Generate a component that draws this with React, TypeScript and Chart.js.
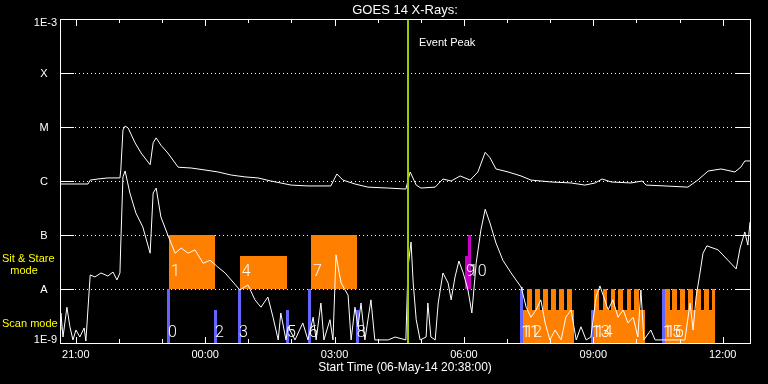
import React, { useEffect, useRef } from 'react';
import { Chart, registerables } from 'chart.js';

Chart.register(...registerables);

// ---------- text ----------
const TITLE = 'GOES 14 X-Rays:';
const START_LABEL = '06-May-14 20:38:00';
const START_HOUR = 20 + 38 / 60;
const SPAN_HOURS = 16;

// ---------- axes ----------
const yLevelValues = [1e-3, 1e-4, 1e-5, 1e-6, 1e-7, 1e-8, 1e-9];
const yLevelLabels = ['1E-3', 'X', 'M', 'C', 'B', 'A', '1E-9'];
const xTickLabels = ['21:00', '00:00', '03:00', '06:00', '09:00', '12:00'];

// ---------- GOES long channel (1-8 A), hours since start ----------
const longTimes = [
  0, 0.65, 0.7, 0.88, 1.11, 1.39, 1.41, 1.46, 1.51, 1.58, 1.74, 1.88, 2.09, 2.16, 2.23, 2.34, 2.5,
  2.74, 3.04, 3.36, 3.66, 3.97, 4.29, 4.59, 4.89, 5.36, 5.75, 6.28, 6.42, 6.56, 6.84, 7.14, 7.61,
  8.02, 8.12, 8.26, 8.37, 8.7, 8.88, 9.07, 9.28, 9.51, 9.69, 9.86, 9.97, 10.11, 10.39, 10.69, 10.92,
  11.39, 11.85, 12.17, 12.41, 12.57, 12.78, 13.24, 13.5, 13.59, 14.03, 14.56, 14.79, 15.03, 15.33,
  15.65, 15.79, 15.88, 16,
];
const longFlux = [
  8.8e-7, 8.8e-7, 1.04e-6, 1.09e-6, 1.14e-6, 1.14e-6, 1.6e-6, 8.8e-6, 1.04e-5, 9.6e-6, 5.1e-6, 3.3e-6,
  2.0e-6, 5.1e-6, 6.3e-6, 4.6e-6, 3.3e-6, 1.8e-6, 1.74e-6, 1.6e-6, 1.47e-6, 1.29e-6, 1.19e-6, 1.14e-6,
  1.0e-6, 8.4e-7, 8.1e-7, 8.1e-7, 1.35e-6, 1.04e-6, 8.8e-7, 7.7e-7, 7.4e-7, 7.1e-7, 1.47e-6, 8.4e-7,
  7.4e-7, 7.7e-7, 1.09e-6, 1.0e-6, 1.24e-6, 1.04e-6, 1.47e-6, 3.4e-6, 2.7e-6, 1.67e-6, 1.47e-6,
  1.24e-6, 1.04e-6, 9.6e-7, 9.2e-7, 8.4e-7, 9.2e-7, 1.09e-6, 9.6e-7, 9.2e-7, 1.0e-6, 8.4e-7, 8.1e-7,
  7.7e-7, 1.04e-6, 1.53e-6, 1.67e-6, 1.47e-6, 1.82e-6, 2.35e-6, 2.35e-6,
];

// ---------- GOES short channel (0.5-4 A) ----------
const shortTimes = [
  0, 0.02, 0.07, 0.16, 0.23, 0.3, 0.37, 0.46, 0.56, 0.6, 0.7, 0.81, 0.95, 1.11, 1.23, 1.32, 1.39,
  1.41, 1.46, 1.51, 1.62, 1.76, 1.92, 2.09, 2.16, 2.23, 2.34, 2.5, 2.67, 2.81, 2.97, 3.13, 3.32, 3.48,
  3.66, 3.83, 3.97, 4.17, 4.36, 4.52, 4.66, 4.82, 4.94, 5.06, 5.12, 5.24, 5.29, 5.45, 5.63, 5.75,
  5.87, 5.94, 6.05, 6.12, 6.26, 6.33, 6.4, 6.47, 6.52, 6.61, 6.68, 6.75, 6.84, 6.91, 6.98, 7.07, 7.21,
  7.3, 7.61, 7.77, 8.02, 8.07, 8.14, 8.19, 8.26, 8.35, 8.49, 8.53, 8.6, 8.7, 8.77, 8.88, 9.0, 9.07,
  9.16, 9.25, 9.35, 9.46, 9.55, 9.65, 9.76, 9.86, 9.97, 10.11, 10.27, 10.46, 10.69, 10.71, 10.81,
  10.92, 11.04, 11.15, 11.25, 11.36, 11.48, 11.62, 11.73, 11.85, 11.97, 12.08, 12.2, 12.31, 12.43,
  12.52, 12.61, 12.71, 12.82, 12.94, 13.06, 13.17, 13.29, 13.4, 13.47, 13.54, 13.7, 13.8, 14.49,
  14.61, 14.68, 14.75, 14.84, 14.91, 15.0, 15.26, 15.49, 15.68, 15.77, 15.88, 15.95, 16,
];
const shortFlux = [
  1.74e-9, 3.6e-9, 1.29e-9, 4.6e-9, 2.0e-9, 1.14e-9, 1.74e-9, 1.29e-9, 1.9e-9, 1.09e-9, 1.82e-8,
  1.67e-8, 1.98e-8, 1.74e-8, 2.06e-8, 1.47e-8, 1.98e-8, 7.1e-8, 1.19e-6, 1.53e-6, 6.0e-7, 2.55e-7,
  1.41e-7, 4.6e-8, 6.0e-7, 7.4e-7, 2.15e-7, 1.0e-7, 4.6e-8, 5.75e-8, 4.6e-8, 5.3e-8, 3.0e-8, 3.4e-8,
  2.55e-8, 1.98e-8, 1.47e-8, 9.6e-9, 1.19e-8, 6.3e-9, 4.6e-9, 7.1e-9, 3.0e-9, 1.14e-9, 3.6e-9,
  1.14e-9, 2.0e-9, 1.14e-9, 2.35e-9, 1.14e-9, 3.0e-9, 1.14e-9, 5.5e-9, 1.14e-9, 2.7e-9, 1.14e-9,
  4.3e-8, 2.06e-8, 1.29e-8, 9.6e-9, 7.7e-9, 1.14e-9, 4.6e-9, 2.0e-9, 5.5e-9, 1.14e-9, 6.3e-9,
  1.14e-9, 1.14e-9, 1.29e-9, 1.14e-9, 2.55e-8, 7.4e-8, 1.29e-8, 2.7e-9, 1.14e-9, 1.29e-9, 5.5e-9,
  1.29e-9, 1.14e-9, 5.5e-9, 1.98e-8, 1.29e-8, 6.3e-9, 1.67e-8, 3.3e-8, 1.98e-8, 9.6e-9, 3.6e-9,
  3.0e-8, 1.24e-7, 3.0e-7, 1.67e-7, 7.1e-8, 3.4e-8, 1.98e-8, 1.09e-8, 9.6e-9, 4.6e-9, 3.0e-9,
  4.1e-9, 6.3e-9, 2.35e-9, 1.14e-9, 1.74e-9, 1.14e-9, 3.0e-9, 4.1e-9, 1.14e-9, 2.0e-9, 1.14e-9,
  1.29e-9, 7.1e-9, 1.14e-8, 7.1e-9, 4.1e-9, 6.3e-9, 3.0e-9, 4.1e-9, 2.35e-9, 3.0e-9, 1.29e-9,
  9.6e-9, 1.14e-9, 1.74e-9, 1.14e-9, 1.14e-9, 5.5e-9, 1.74e-9, 7.1e-9, 1.98e-8, 4.6e-8, 6.3e-8,
  5.3e-8, 3.4e-8, 2.35e-8, 5.75e-8, 1.14e-7, 6.5e-8, 1.74e-7,
];

// ---------- event ----------
const eventPeakHour = 8.08;
const eventPeakLabel = 'Event Peak';

// ---------- Sit & Stare blocks (orange) ----------
const stareLabels = ['1', '4', '7'];
const stareStart = [2.53, 4.17, 5.82];
const stareEnd = [3.59, 5.26, 6.89];
const stareTop = [1e-7, 4.1e-8, 1e-7];
const stareBottom = 1e-8;

// ---------- Scan observations (blue) ----------
const scanLabels = ['0', '2', '3', '5', '6', '8', '11', '13', '15'];
const scanStart = [2.48, 3.57, 4.13, 5.24, 5.75, 6.86, 10.67, 12.31, 13.96];
const scanEnd = [2.55, 3.64, 4.2, 5.31, 5.82, 6.93, 10.74, 12.38, 14.03];
const scanTop = [1e-8, 4.1e-9, 1e-8, 4.1e-9, 1e-8, 4.1e-9, 1e-8, 4.1e-9, 1e-8];

// ---------- Flare observations (magenta) ----------
const flareLabels = ['9', '10'];
const flareStart = [9.39, 9.46];
const flareEnd = [9.53, 9.53];
const flareTop = [4.1e-8, 1e-7];

// ---------- Raster sequences (orange comb) ----------
const rasterLabels = ['12', '14', '16'];
const rasterStart = [10.74, 12.38, 14.03];
const rasterEnd = [11.92, 13.57, 15.19];
const rasterBaseTop = 4.1e-9;
const rasterToothTop = 1e-8;
const rasterToothHours = 0.11;
const rasterTeeth12 = [10.83, 11.01, 11.2, 11.39, 11.57, 11.76];
const rasterTeeth14 = [12.39, 12.58, 12.77, 12.95, 13.14, 13.32];
const rasterTeeth16 = [14.03, 14.2, 14.38, 14.56, 14.75, 14.93, 15.12];
const rasterTeeth = [rasterTeeth12, rasterTeeth14, rasterTeeth16];

const ORANGE = '#ff8000';
const BLUE = '#6464ff';
const MAGENTA = '#c800c8';
const GREEN = '#9acd00';
const YELLOW = '#ffff00';
const LABEL_FONT = '300 16px Roboto, "Liberation Sans", sans-serif';
const AXIS_FONT = '11px "Liberation Sans", Arial, sans-serif';

const hourOffset = (lbl: string) => {
  const [hh, mm] = lbl.split(':').map(Number);
  return (hh + mm / 60 - START_HOUR + 24) % 24;
};

const decor = {
  id: 'goesDecor',
  beforeDraw(chart: any) {
    const { ctx, width, height } = chart;
    ctx.save();
    ctx.fillStyle = '#000';
    ctx.fillRect(0, 0, width, height);
    ctx.restore();
  },
  beforeDatasetsDraw(chart: any) {
    const { ctx, chartArea: a, scales } = chart;
    const X = (h: number) => scales.x.getPixelForValue(h);
    const Y = (v: number) => scales.y.getPixelForValue(v);
    ctx.save();
    // dotted level lines
    ctx.strokeStyle = '#fff';
    ctx.lineWidth = 1;
    ctx.setLineDash([1, 3]);
    for (let i = 1; i < yLevelValues.length - 1; i++) {
      const y = Math.round(Y(yLevelValues[i])) + 0.5;
      ctx.beginPath();
      ctx.moveTo(Math.round(a.left) + 15, y);
      ctx.lineTo(Math.round(a.right) - 14, y);
      ctx.stroke();
    }
    ctx.setLineDash([]);

    const rect = (h0: number, h1: number, top: number, bottom: number, color: string) => {
      const x0 = Math.round(X(h0));
      const x1 = Math.round(X(h1));
      const y0 = Math.round(Y(top));
      const y1 = Math.round(Y(bottom));
      ctx.fillStyle = color;
      ctx.fillRect(x0, y0, Math.max(1, x1 - x0), y1 - y0);
    };

    stareStart.forEach((s, i) => rect(s, stareEnd[i], stareTop[i], stareBottom, ORANGE));
    rasterStart.forEach((s, i) => {
      rect(s, rasterEnd[i], rasterBaseTop, 1e-9, ORANGE);
      rasterTeeth[i].forEach((t) =>
        rect(t, Math.min(t + rasterToothHours, rasterEnd[i]), rasterToothTop, rasterBaseTop, ORANGE)
      );
    });
    scanStart.forEach((s, i) => rect(s, scanEnd[i], scanTop[i], 1e-9, BLUE));
    flareStart.forEach((s, i) => rect(s, flareEnd[i], flareTop[i], 1e-8, MAGENTA));

    // observation numbers
    ctx.fillStyle = '#fff';
    ctx.font = LABEL_FONT;
    ctx.textAlign = 'left';
    ctx.textBaseline = 'middle';
    const midRow = Y(1e-8) - 17;
    const lowRow = Y(1e-9) - 10;
    stareStart.forEach((s, i) => ctx.fillText(stareLabels[i], X(s) + 2, midRow));
    flareStart.forEach((s, i) => ctx.fillText(flareLabels[i], X(s) + 1, midRow));
    scanStart.forEach((s, i) => ctx.fillText(scanLabels[i], X(s) + 1, lowRow));
    rasterStart.forEach((s, i) => ctx.fillText(rasterLabels[i], X(s) + 1, lowRow));
    ctx.restore();
  },
  afterDatasetsDraw(chart: any) {
    const { ctx, chartArea: a, scales } = chart;
    const X = (h: number) => scales.x.getPixelForValue(h);
    const Y = (v: number) => scales.y.getPixelForValue(v);
    ctx.save();
    // event peak
    const ex = Math.round(X(eventPeakHour));
    ctx.fillStyle = GREEN;
    ctx.fillRect(ex - 1, a.top, 2, a.bottom - a.top);
    ctx.fillStyle = '#fff';
    ctx.font = AXIS_FONT;
    ctx.textAlign = 'left';
    ctx.textBaseline = 'middle';
    ctx.fillText(eventPeakLabel, ex + 11, a.top + 24);

    // frame
    ctx.strokeStyle = '#fff';
    ctx.lineWidth = 1;
    ctx.strokeRect(Math.round(a.left) + 0.5, Math.round(a.top) + 0.5, Math.round(a.right - a.left), Math.round(a.bottom - a.top));

    // y ticks
    ctx.beginPath();
    for (let i = 1; i < yLevelValues.length - 1; i++) {
      const y = Math.round(Y(yLevelValues[i])) + 0.5;
      ctx.moveTo(a.left, y);
      ctx.lineTo(a.left + 14, y);
      ctx.moveTo(a.right - 14, y);
      ctx.lineTo(a.right, y);
    }
    // x ticks (hourly, major at labels)
    const first = hourOffset(xTickLabels[0]);
    for (let k = 0; first + k <= SPAN_HOURS; k++) {
      const x = Math.round(X(first + k)) + 0.5;
      const major = k % 3 === 0;
      ctx.moveTo(x, a.top);
      ctx.lineTo(x, a.top + (major ? 7 : 4));
      ctx.moveTo(x, a.bottom);
      ctx.lineTo(x, a.bottom - (major ? 6 : 4));
    }
    ctx.stroke();

    // x tick labels
    ctx.fillStyle = '#fff';
    ctx.font = AXIS_FONT;
    ctx.textAlign = 'center';
    xTickLabels.forEach((l) => ctx.fillText(l, X(hourOffset(l)), a.bottom + 12));

    // y labels
    yLevelValues.forEach((v, i) => {
      const lbl = yLevelLabels[i];
      const y = Math.min(Math.max(Y(v) + 1, a.top + 4), a.bottom - 3);
      if (lbl.length > 1) {
        ctx.textAlign = 'right';
        ctx.fillText(lbl, a.left - 3, y);
      } else {
        ctx.textAlign = 'center';
        ctx.fillText(lbl, a.left - 16, y);
      }
    });

    // mode labels
    ctx.fillStyle = YELLOW;
    ctx.textAlign = 'left';
    const stareMid = (Y(1e-7) + Y(1e-8)) / 2;
    ctx.fillText('Sit & Stare', 2, stareMid - 3);
    ctx.textAlign = 'center';
    ctx.fillText('mode', 24, stareMid + 9);
    ctx.textAlign = 'left';
    ctx.fillText('Scan mode', 2, Y(1e-9) - 19);

    // titles
    ctx.fillStyle = '#fff';
    ctx.textAlign = 'center';
    ctx.font = '13px "Liberation Sans", Arial, sans-serif';
    ctx.fillText(TITLE, (a.left + a.right) / 2, 10);
    ctx.font = '12px "Liberation Sans", Arial, sans-serif';
    ctx.fillText('Start Time (' + START_LABEL + ')', (a.left + a.right) / 2, a.bottom + 25);
    ctx.restore();
  },
};

const App = () => {
  const ref = useRef<HTMLCanvasElement>(null);
  useEffect(() => {
    document.body.style.margin = '0';
    document.body.style.background = '#000';
    const canvas = ref.current!;
    const chart = new Chart(canvas, {
      type: 'line',
      data: {
        datasets: [
          {
            label: 'GOES 1-8 A',
            data: longTimes.map((t, i) => ({ x: t, y: longFlux[i] })),
            borderColor: '#fff',
            borderWidth: 1,
            pointRadius: 0,
            tension: 0,
            fill: false,
          },
          {
            label: 'GOES 0.5-4 A',
            data: shortTimes.map((t, i) => ({ x: t, y: shortFlux[i] })),
            borderColor: '#fff',
            borderWidth: 1,
            pointRadius: 0,
            tension: 0,
            fill: false,
          },
        ],
      },
      options: {
        responsive: false,
        animation: false,
        devicePixelRatio: 1,
        events: [],
        layout: { padding: { left: 60, right: 18, top: 19, bottom: 41 } },
        scales: {
          x: { type: 'linear', min: 0, max: SPAN_HOURS, display: false },
          y: { type: 'logarithmic', min: 1e-9, max: 1e-3, display: false },
        },
        plugins: {
          legend: { display: false },
          tooltip: { enabled: false },
          title: { display: false },
        },
      },
      plugins: [decor],
    } as any);
    return () => chart.destroy();
  }, []);
  return <canvas ref={ref} width={768} height={384} style={{ display: 'block' }} />;
};

export default App;
